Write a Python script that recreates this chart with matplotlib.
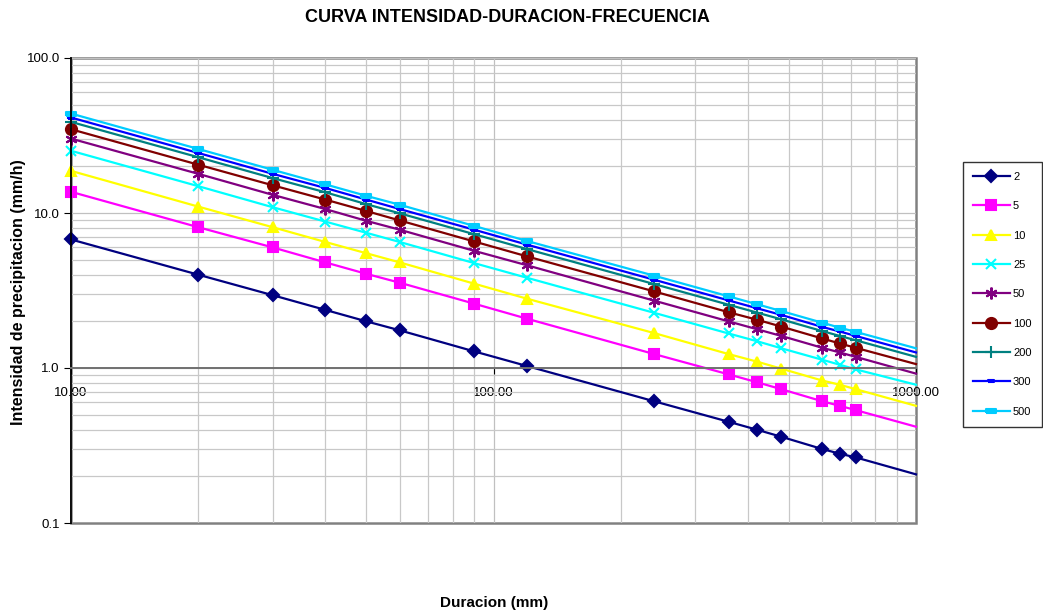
import numpy as np
import matplotlib
matplotlib.use("Agg")
import matplotlib.pyplot as plt
from matplotlib.patches import Rectangle
from matplotlib.ticker import FixedLocator, FuncFormatter, NullFormatter, LogLocator

plt.rcParams['font.family'] = ['Liberation Sans', 'DejaVu Sans']

# duraciones (min); the last point (1000) is only the line end, no marker
duracion = [10, 20, 30, 40, 50, 60, 90, 120, 240, 360, 420, 480, 600, 660, 720, 1000]

# intensidad (mm/h) per return period
i_2 = [6.75, 4.0, 2.95, 2.37, 2.0, 1.75, 1.28, 1.03, 0.61, 0.45, 0.40, 0.36, 0.30, 0.28, 0.265, 0.206]
i_5 = [13.7, 8.1, 6.0, 4.8, 4.05, 3.55, 2.6, 2.08, 1.23, 0.91, 0.81, 0.73, 0.61, 0.57, 0.535, 0.418]
i_10 = [18.7, 11.0, 8.1, 6.5, 5.5, 4.8, 3.5, 2.8, 1.68, 1.23, 1.10, 0.99, 0.83, 0.78, 0.73, 0.57]
i_25 = [25.2, 14.9, 10.9, 8.8, 7.45, 6.5, 4.75, 3.82, 2.27, 1.67, 1.49, 1.34, 1.13, 1.05, 0.98, 0.78]
i_50 = [30.2, 17.9, 13.1, 10.6, 8.9, 7.8, 5.7, 4.6, 2.72, 2.0, 1.78, 1.61, 1.35, 1.26, 1.18, 0.92]
i_100 = [34.7, 20.5, 15.1, 12.2, 10.3, 8.95, 6.55, 5.25, 3.12, 2.29, 2.05, 1.85, 1.55, 1.44, 1.35, 1.06]
i_200 = [38.7, 22.9, 16.8, 13.6, 11.4, 9.95, 7.3, 5.85, 3.48, 2.56, 2.28, 2.06, 1.73, 1.61, 1.51, 1.18]
i_300 = [41.3, 24.4, 17.9, 14.5, 12.2, 10.6, 7.8, 6.25, 3.71, 2.73, 2.43, 2.2, 1.84, 1.72, 1.61, 1.26]
i_500 = [43.8, 25.9, 19.0, 15.3, 12.9, 11.3, 8.25, 6.6, 3.94, 2.90, 2.58, 2.33, 1.96, 1.82, 1.71, 1.34]

periodos = ['2', '5', '10', '25', '50', '100', '200', '300', '500']
series = [i_2, i_5, i_10, i_25, i_50, i_100, i_200, i_300, i_500]

colores = ['#000080', '#FF00FF', '#FFFF00', '#00FFFF', '#800080',
           '#800000', '#008080', '#0000FF', '#00CCFF']
dash_s = [(-1, -0.35), (1, -0.35), (1, 0.35), (-1, 0.35), (-1, -0.35)]
marcadores = ['D', 's', '^', 'x', (6, 2, 0), 'o', '+', dash_s, dash_s]
tamanos = [6.5, 7.5, 7.5, 7, 8.5, 8, 8, 5, 7]

fig = plt.figure(figsize=(10.43, 6.16), dpi=100)
ax = fig.add_axes([71 / 1043, 1 - 523 / 616, (916 - 71) / 1043, (523 - 58) / 616])

for vals, lab, c, m, ms in zip(series, periodos, colores, marcadores, tamanos):
    ax.plot(duracion, vals, color=c, lw=1.6, marker=m, ms=ms,
            mfc=c, mec=c, mew=1.5, markevery=slice(0, len(duracion) - 1),
            label=lab, clip_on=False)

ax.set_xscale('log')
ax.set_yscale('log')
ax.set_xlim(10, 1000)
ax.set_ylim(0.1, 100)

ax.grid(True, which='major', color='#c0c0c0', lw=0.9)
ax.grid(True, which='minor', color='#c8c8c8', lw=0.9)
ax.set_axisbelow(True)

ax.xaxis.set_major_locator(FixedLocator([10, 100, 1000]))
ax.xaxis.set_major_formatter(FuncFormatter(lambda v, p: '%.2f' % v))
ax.xaxis.set_minor_locator(LogLocator(base=10, subs=np.arange(2, 10)))
ax.xaxis.set_minor_formatter(NullFormatter())
ax.yaxis.set_major_locator(FixedLocator([0.1, 1, 10, 100]))
ax.yaxis.set_major_formatter(FuncFormatter(lambda v, p: '%.1f' % v))
ax.yaxis.set_minor_locator(LogLocator(base=10, subs=np.arange(2, 10)))
ax.yaxis.set_minor_formatter(NullFormatter())

ax.tick_params(which='minor', length=0)
ax.tick_params(axis='x', which='major', length=4, direction='out', color='#000000',
               labelsize=9.5, pad=10)
ax.tick_params(axis='y', which='major', length=5, direction='out', labelsize=9.5, pad=3)

ax.spines['bottom'].set_position(('data', 1))
ax.spines['bottom'].set_color('#707070')
ax.spines['bottom'].set_linewidth(1.4)
ax.spines['left'].set_color('black')
ax.spines['left'].set_linewidth(1.3)
ax.spines['top'].set_visible(False)
ax.spines['right'].set_visible(False)
ax.add_patch(Rectangle((0, 0), 1, 1, transform=ax.transAxes, fill=False,
                       edgecolor='#808080', lw=1.8, zorder=0.5, clip_on=False))

fig.text(507 / 1043, 1 - 17 / 616, 'CURVA INTENSIDAD-DURACION-FRECUENCIA',
         ha='center', va='center', fontsize=13, fontweight='bold')
fig.text(19 / 1043, 1 - 292 / 616, 'Intensidad de precipitacion (mm/h)',
         ha='center', va='center', rotation=90, fontsize=11.5, fontweight='bold')
fig.text(494 / 1043, 1 - 603 / 616, 'Duracion (mm)',
         ha='center', va='center', fontsize=11, fontweight='bold')

leg = fig.legend(loc='upper left', bbox_to_anchor=(963 / 1043, 1 - 162 / 616),
                 bbox_transform=fig.transFigure, fontsize=8, frameon=True,
                 fancybox=False, edgecolor='black', borderaxespad=0,
                 handlelength=3.3, handletextpad=0.3, labelspacing=1.74,
                 borderpad=0.9)
leg.get_frame().set_linewidth(1.0)

fig.savefig('out.png', dpi=100)
